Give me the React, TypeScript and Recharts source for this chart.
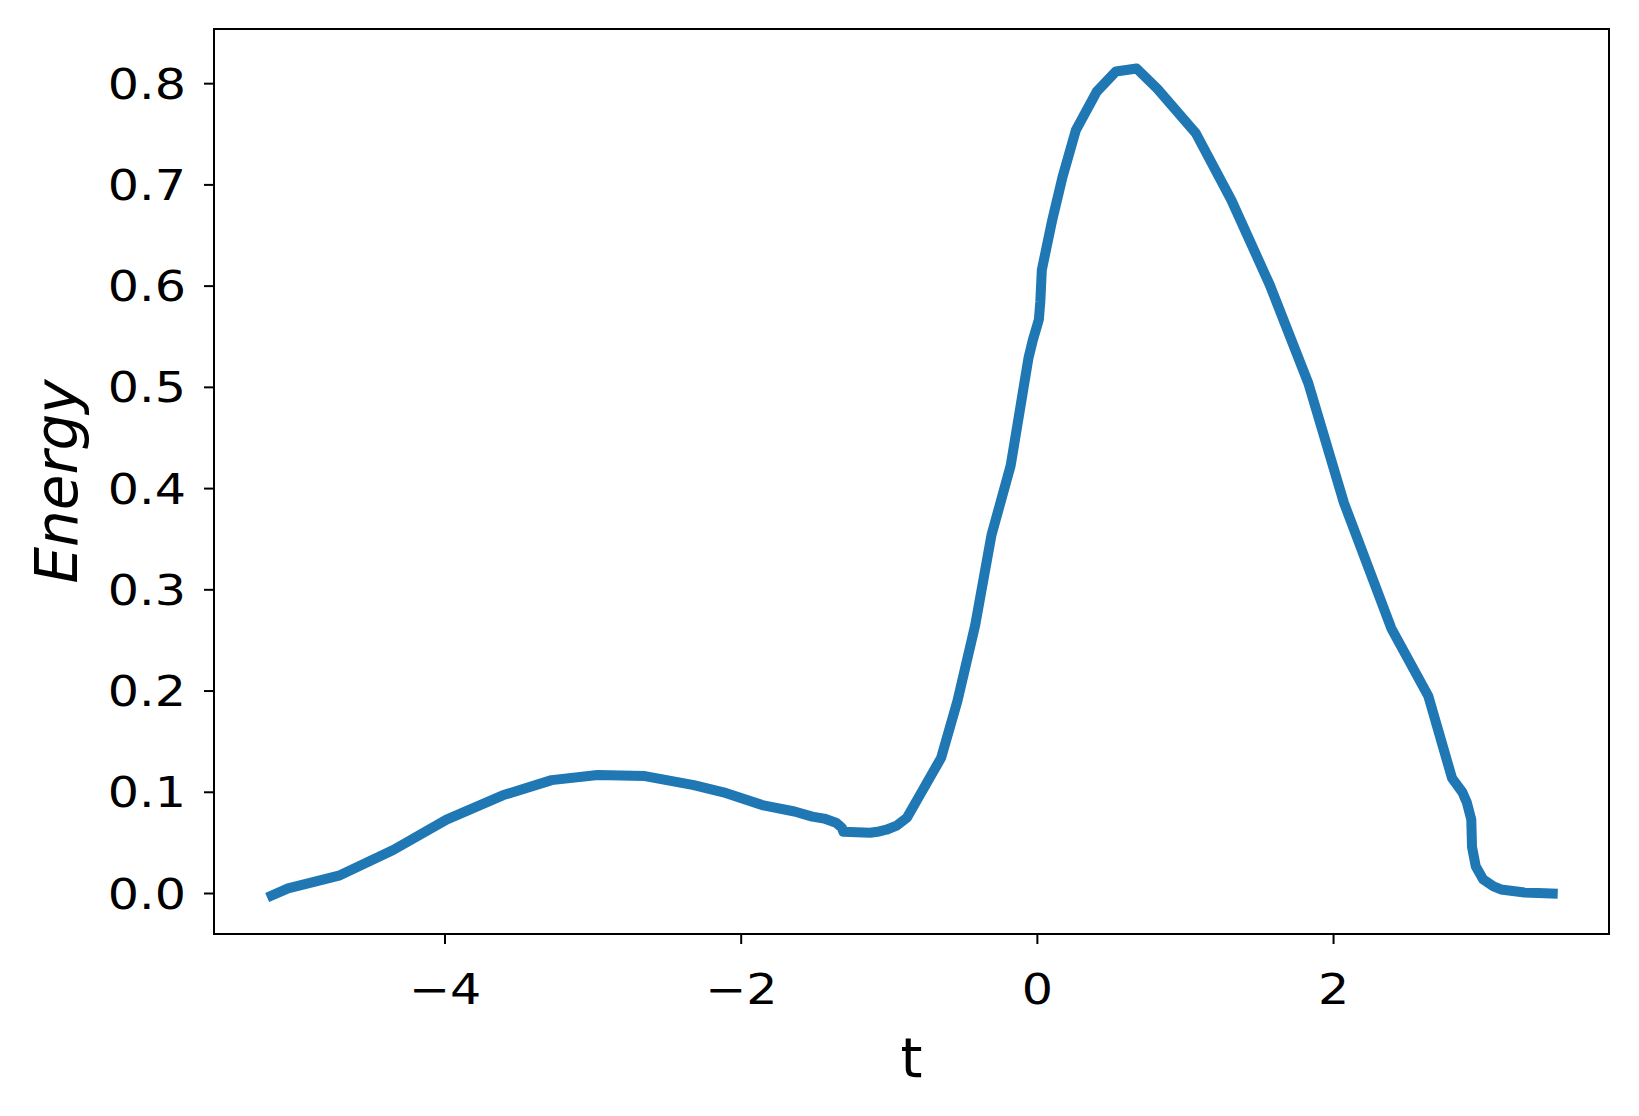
import { LineChart, Line, XAxis, YAxis, ReferenceArea } from 'recharts';

const tValues = [
  -5.17, -5.06, -4.71, -4.35, -3.99, -3.61, -3.28, -2.97, -2.65, -2.32,
  -2.12, -1.85, -1.64, -1.52, -1.44, -1.36, -1.32, -1.31, -1.13, -1.08,
  -1.02, -0.95, -0.88, -0.81, -0.65, -0.54, -0.42, -0.31, -0.18, -0.06,
  -0.03, 0.01, 0.02, 0.03, 0.10, 0.17, 0.26, 0.40, 0.53, 0.67,
  0.81, 1.07, 1.31, 1.57, 1.83, 2.07, 2.39, 2.64, 2.80, 2.87,
  2.90, 2.93, 2.935, 2.96, 3.01, 3.08, 3.13, 3.29, 3.48,
];

const energyValues = [
  -0.002, 0.005, 0.018, 0.043, 0.073, 0.097, 0.112, 0.117, 0.116, 0.107,
  0.100, 0.087, 0.081, 0.076, 0.074, 0.070, 0.065, 0.061, 0.060, 0.061,
  0.063, 0.067, 0.075, 0.093, 0.134, 0.190, 0.265, 0.354, 0.423, 0.529,
  0.547, 0.567, 0.585, 0.616, 0.665, 0.708, 0.754, 0.792, 0.812, 0.815,
  0.795, 0.751, 0.685, 0.601, 0.504, 0.386, 0.262, 0.195, 0.114, 0.100,
  0.090, 0.073, 0.046, 0.027, 0.014, 0.007, 0.004, 0.001, 0.000,
];

const xTicks = [-4, -2, 0, 2];
const yTicks = [0, 0.1, 0.2, 0.3, 0.4, 0.5, 0.6, 0.7, 0.8];

const X_DOMAIN: [number, number] = [-5.56, 3.86];
const Y_DOMAIN: [number, number] = [-0.04, 0.854];

const data = tValues.map((t, i) => ({ t, energy: energyValues[i] }));

const FONT = '"DejaVu Sans", sans-serif';
const TICK_SIZE = 42;
const STRETCH = 1.17;

const fmtX = (v: number) => (v < 0 ? `\u2212${Math.abs(v)}` : `${v}`);
const fmtY = (v: number) => v.toFixed(1);

const XTick = ({ x, y, payload }: any) => (
  <text
    transform={`translate(${x}, ${y}) scale(${STRETCH}, 1)`}
    textAnchor="middle"
    dy="0.71em"
    fontSize={TICK_SIZE}
    fontFamily={FONT}
    fill="#000"
  >
    {fmtX(payload.value)}
  </text>
);

const YTick = ({ x, y, payload }: any) => (
  <text
    transform={`translate(${x}, ${y}) scale(${STRETCH}, 1)`}
    textAnchor="end"
    dy="0.36em"
    fontSize={TICK_SIZE}
    fontFamily={FONT}
    fill="#000"
  >
    {fmtY(payload.value)}
  </text>
);

export default function App() {
  return (
    <div style={{ position: 'absolute', left: 0, top: 0, background: '#fff' }}>
      <LineChart
        width={1639}
        height={1116}
        data={data}
        margin={{ top: 29, right: 30, bottom: 0, left: 0 }}
      >
        <XAxis
          type="number"
          dataKey="t"
          domain={X_DOMAIN}
          ticks={xTicks}
          allowDataOverflow
          height={182}
          stroke="#000"
          strokeWidth={2}
          tickSize={10}
          tickMargin={30}
          tick={<XTick />}
          label={{
            content: ({ viewBox }: any) => (
              <text
                x={viewBox.x + viewBox.width / 2}
                y={1077}
                textAnchor="middle"
                fontSize={56}
                fontFamily={FONT}
                fill="#000"
              >
                t
              </text>
            ),
          }}
        />
        <YAxis
          type="number"
          domain={Y_DOMAIN}
          ticks={yTicks}
          allowDataOverflow
          width={214}
          stroke="#000"
          strokeWidth={2}
          tickSize={10}
          tickMargin={18}
          tick={<YTick />}
          label={{
            content: ({ viewBox }: any) => {
              const cx = 57;
              const cy = viewBox.y + viewBox.height / 2;
              return (
                <text
                  x={cx}
                  y={cy}
                  transform={`rotate(-90, ${cx}, ${cy})`}
                  textAnchor="middle"
                  dominantBaseline="central"
                  fontSize={58}
                  fontStyle="italic"
                  fontFamily={FONT}
                  fill="#000"
                >
                  Energy
                </text>
              );
            },
          }}
        />
        <ReferenceArea
          x1={X_DOMAIN[0]}
          x2={X_DOMAIN[1]}
          y1={Y_DOMAIN[0]}
          y2={Y_DOMAIN[1]}
          fill="none"
          stroke="#000"
          strokeWidth={2}
          ifOverflow="visible"
        />
        <Line
          type="linear"
          dataKey="energy"
          stroke="#1f77b4"
          strokeWidth={10}
          strokeLinejoin="round"
          strokeLinecap="square"
          dot={false}
          isAnimationActive={false}
        />
      </LineChart>
    </div>
  );
}
